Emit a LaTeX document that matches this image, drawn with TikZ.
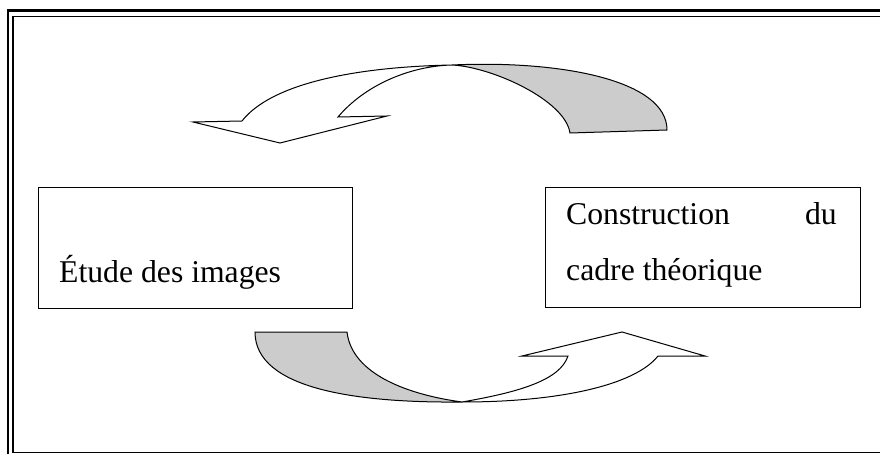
\documentclass[tikz,border=0pt]{standalone}
\usepackage{fontspec}
\setmainfont{Liberation Serif}
\begin{document}
\begin{tikzpicture}[x=1pt,y=-1pt,
  shapeline/.style={draw=black,line width=1pt,line join=miter},
  backfill/.style={fill=black!20},
  boxnode/.style={draw=black,line width=1pt,inner sep=0pt,anchor=north west},
  txt/.style={inner sep=0pt,font=\fontsize{31.7}{38}\selectfont}]
\useasboundingbox (0,0) rectangle (880,454);
\fill[white] (0,0) rectangle (880,454);
% frame
\draw[line width=2.6pt] (7.8,460) -- (7.8,10.8) -- (885,10.8);
\draw[line width=1.3pt] (885,16.3) -- (13,16.3) -- (13,452.3) -- (885,452.3);
% boxes
\node[boxnode,minimum width=314pt,minimum height=121pt] (L) at (38,187) {};
\node[boxnode,minimum width=315pt,minimum height=120pt] (R) at (545,187) {};
\node[txt,anchor=base west] (Lt) at (59,282) {Étude des images};
\node[txt,anchor=base west] (Rt1) at (566,225) {Construction};
\node[txt,anchor=base east] (Rt2) at (837,225) {du};
\node[txt,anchor=base west] (Rt3) at (566,280) {cadre théorique};
% top curved arrow
\coordinate (T) at (452,65);
\fill[backfill] (667,130) .. controls (667,80) and (560,60) .. (T)
  .. controls (492,67) and (565,100) .. (570,133) -- cycle;
\draw[shapeline] (667,130) .. controls (667,80) and (560,60) .. (T)
  .. controls (350,67) and (270,85) .. (242,121)
  -- (193,122) -- (280,143) -- (387,116) -- (338,117)
  .. controls (365,85) and (410,66) .. (T)
  .. controls (492,67) and (565,100) .. (570,133)
  -- cycle;
% bottom curved arrow
\coordinate (B) at (462,402);
\fill[backfill] (255,332) .. controls (255,390) and (360,403) .. (B)
  .. controls (410,395) and (352,375) .. (347,332) -- cycle;
\draw[shapeline] (255,332) .. controls (255,390) and (360,403) .. (B)
  .. controls (560,402) and (635,385) .. (658,356)
  -- (705,356) -- (622,332) -- (522,356) -- (568,356)
  .. controls (560,380) and (520,392) .. (B)
  .. controls (410,395) and (352,375) .. (347,332)
  -- cycle;
\end{tikzpicture}
\end{document}
